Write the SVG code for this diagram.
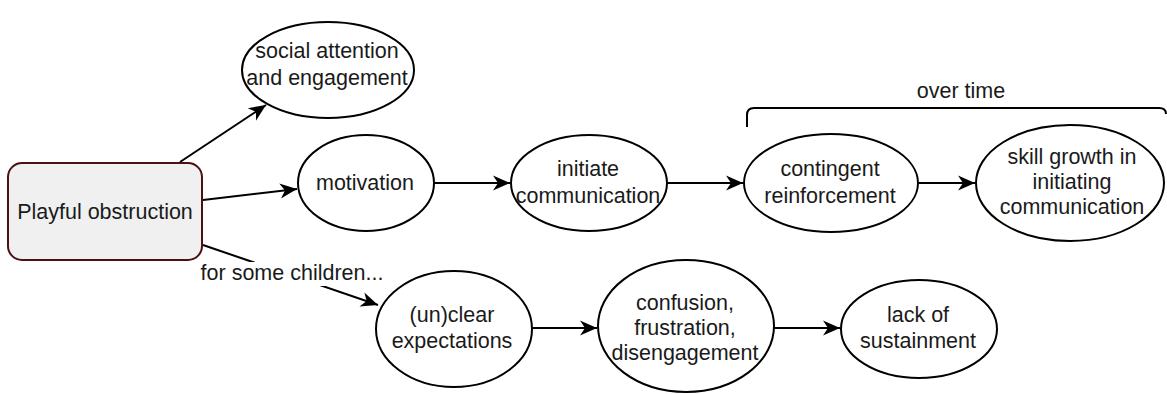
<svg xmlns="http://www.w3.org/2000/svg" width="1167" height="394" viewBox="0 0 1167 394">
  <style>
    .node { fill: #ffffff; stroke: #000000; stroke-width: 2; }
    .start { fill: #f0f0f0; stroke: #4a1111; stroke-width: 2; }
    .lbl { font-family: "Liberation Sans", Arial, sans-serif; font-size: 21.5px; fill: #1a1a1a; text-anchor: middle; }
    .edge { fill: none; stroke: #000000; stroke-width: 2; }
  </style>
  <defs>
    <marker id="arrow" markerUnits="userSpaceOnUse" markerWidth="22" markerHeight="20" viewBox="-19 -10 22 20" refX="0" refY="0" orient="auto">
      <path d="M-17,-7.5 L0,0 L-17,7.5 L-12,0 Z" fill="#000000"/>
    </marker>
  </defs>
  <rect width="1167" height="394" fill="#ffffff"/>

  <!-- connectors -->
  <g id="connectors">
    <line class="edge" x1="180" y1="162" x2="266" y2="105" marker-end="url(#arrow)"/>
    <line class="edge" x1="203" y1="200" x2="297" y2="189" marker-end="url(#arrow)"/>
    <line class="edge" x1="203" y1="245" x2="378" y2="305" marker-end="url(#arrow)"/>
    <line class="edge" x1="434" y1="183" x2="510" y2="183" marker-end="url(#arrow)"/>
    <line class="edge" x1="667" y1="183" x2="743" y2="183" marker-end="url(#arrow)"/>
    <line class="edge" x1="918" y1="183" x2="975" y2="183" marker-end="url(#arrow)"/>
    <line class="edge" x1="532" y1="328" x2="597" y2="328" marker-end="url(#arrow)"/>
    <line class="edge" x1="773" y1="328" x2="840" y2="328" marker-end="url(#arrow)"/>
    <!-- edge label -->
    <g id="label-some-children">
      <rect x="199" y="262" width="186" height="24" fill="#ffffff"/>
      <text class="lbl" x="292" y="280">for some children...</text>
    </g>
  </g>

  <!-- "over time" bracket -->
  <g id="over-time">
    <path class="edge" d="M747,127 V115 Q747,108 754,108 H1159 Q1166,108 1166,114"/>
    <text class="lbl" x="961" y="98">over time</text>
  </g>

  <g id="playful-obstruction">
    <rect class="start" x="8" y="163" width="194" height="97" rx="14" ry="14"/>
    <text class="lbl" x="105" y="219">Playful obstruction</text>
  </g>

  <g id="social-attention">
    <ellipse class="node" cx="328" cy="70" rx="86" ry="48"/>
    <text class="lbl" x="327" y="58">social attention</text>
    <text class="lbl" x="327" y="85">and engagement</text>
  </g>

  <g id="motivation">
    <ellipse class="node" cx="366" cy="183" rx="68" ry="48"/>
    <text class="lbl" x="365" y="190">motivation</text>
  </g>

  <g id="initiate-communication">
    <ellipse class="node" cx="589" cy="183" rx="78" ry="48"/>
    <text class="lbl" x="588" y="176">initiate</text>
    <text class="lbl" x="588" y="203">communication</text>
  </g>

  <g id="contingent-reinforcement">
    <ellipse class="node" cx="831" cy="183" rx="87" ry="49"/>
    <text class="lbl" x="830" y="176">contingent</text>
    <text class="lbl" x="830" y="203">reinforcement</text>
  </g>

  <g id="skill-growth">
    <ellipse class="node" cx="1070" cy="183" rx="94" ry="58"/>
    <text class="lbl" x="1072" y="164">skill growth in</text>
    <text class="lbl" x="1072" y="189">initiating</text>
    <text class="lbl" x="1072" y="214">communication</text>
  </g>

  <g id="unclear-expectations">
    <ellipse class="node" cx="454" cy="329" rx="78" ry="58"/>
    <text class="lbl" x="452" y="322">(un)clear</text>
    <text class="lbl" x="452" y="348">expectations</text>
  </g>

  <g id="confusion">
    <ellipse class="node" cx="686" cy="326" rx="88" ry="66"/>
    <text class="lbl" x="685" y="310">confusion,</text>
    <text class="lbl" x="685" y="335">frustration,</text>
    <text class="lbl" x="685" y="360">disengagement</text>
  </g>

  <g id="lack-of-sustainment">
    <ellipse class="node" cx="919" cy="329" rx="78" ry="49"/>
    <text class="lbl" x="918" y="322">lack of</text>
    <text class="lbl" x="918" y="348">sustainment</text>
  </g>
</svg>
